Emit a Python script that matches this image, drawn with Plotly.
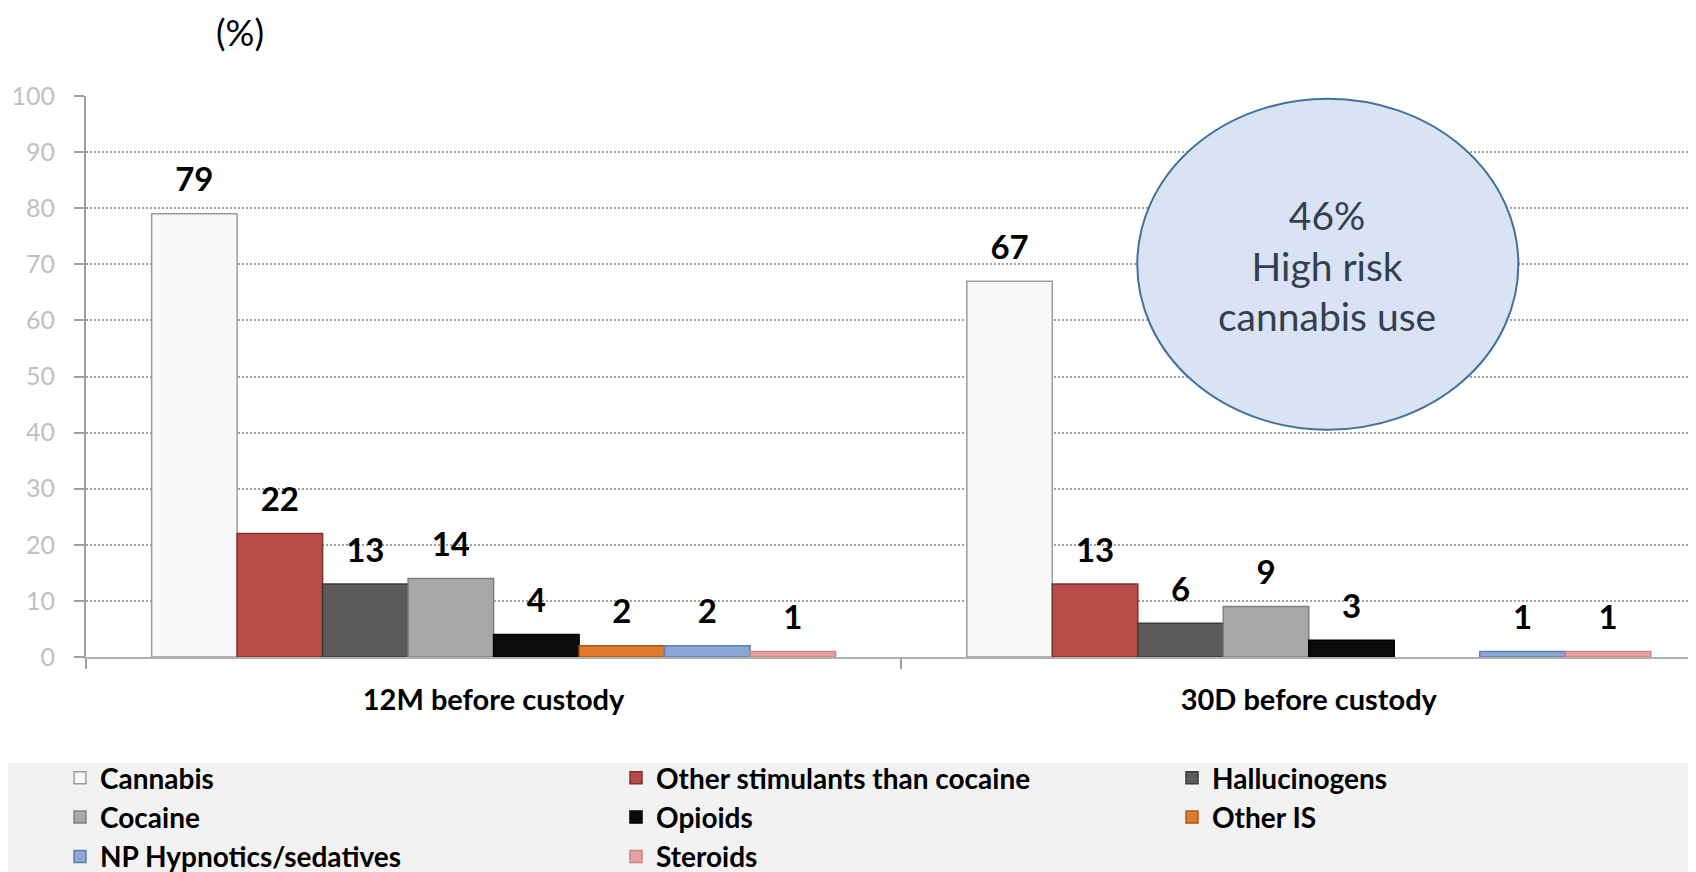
import plotly.graph_objects as go

categories = ["12M before custody", "30D before custody"]
substances = ["Cannabis", "Other stimulants than cocaine", "Hallucinogens", "Cocaine",
              "Opioids", "Other IS", "NP Hypnotics/sedatives", "Steroids"]
values_12m = [79, 22, 13, 14, 4, 2, 2, 1]
values_30d = [67, 13, 6, 9, 3, None, 1, 1]
colors = ["#f8f8f8", "#b94c49", "#5b5b5b", "#a8a8a8", "#0b0b0b", "#df7a2e", "#8ba7d6", "#e4a2a2"]
edge_colors = ["#9c9c9c", "#7e3230", "#3b3b3b", "#808080", "#000000", "#a95818", "#5f7db2", "#cc8585"]
y_ticks = [0, 10, 20, 30, 40, 50, 60, 70, 80, 90, 100]
bubble_lines = ["46%", "High risk", "cannabis use"]

FONT = "Lato"
# The page has an 8px body margin, so the figure is drawn 8px smaller
# and all page-pixel positions are shifted by that offset.
OFF = 8
W, H = 1696 - OFF, 872 - OFF
L, T, R, B = 86 - OFF, 96 - OFF, 1696 - OFF, 657 - OFF   # plot area inside the figure
PW, PH = R - L, B - T


def px(x_page):
    return (x_page - OFF - L) / PW


def py(y_page):
    return (B - (y_page - OFF)) / PH


fig = go.Figure()

for i, name in enumerate(substances):
    vals = [values_12m[i], values_30d[i]]
    fig.add_trace(go.Bar(
        x=categories, y=vals, name=name,
        marker=dict(color=colors[i], line=dict(color=edge_colors[i], width=1.5)),
        offsetgroup=str(i), hoverinfo="skip",
    ))

for i, name in enumerate(substances):
    vals = [values_12m[i], values_30d[i]]
    fig.add_trace(go.Scatter(
        x=categories, y=vals, mode="markers+text",
        text=[("<b>%d</b>" % v) if v is not None else "" for v in vals],
        textposition="top center",
        textfont=dict(family=FONT, size=33, color="#000000"),
        marker=dict(size=21, opacity=0),
        offsetgroup=str(i), showlegend=False, hoverinfo="skip", cliponaxis=False,
    ))

# ellipse callout
fig.add_shape(type="circle", xref="x", yref="y",
              x0=0.7896, x1=1.2571, y0=40.5, y1=99.5,
              fillcolor="#dae3f3", line=dict(color="#41719c", width=2), layer="above")
fig.add_annotation(x=1.0227, y=69.8, xref="x", yref="y", showarrow=False,
                   xanchor="center", yanchor="middle",
                   text="<br>".join(bubble_lines),
                   font=dict(family=FONT, size=39, color="#333f50"))

# legend background band
fig.add_shape(type="rect", xref="paper", yref="paper",
              x0=-0.1, x1=1.05, y0=py(900), y1=py(763),
              fillcolor="#f2f2f2", line=dict(width=0), layer="below")

fig.add_annotation(text="(%)", xref="paper", yref="paper", x=px(240), y=py(32),
                   xanchor="center", yanchor="middle",
                   showarrow=False, font=dict(family=FONT, size=36, color="#000000"))

fig.update_layout(
    width=W, height=H,
    margin=dict(l=L, r=W - R, t=T, b=H - B, pad=0, autoexpand=False),
    paper_bgcolor="white", plot_bgcolor="white",
    barmode="group", bargap=0.161, bargroupgap=0,
    scattermode="group", scattergap=0.161,
    showlegend=True,
    legend=dict(orientation="h", x=px(60), y=py(753), xanchor="left", yanchor="top",
                entrywidth=511, entrywidthmode="pixels",
                font=dict(family=FONT, size=28, color="#000000", weight="bold"),
                bgcolor="rgba(0,0,0,0)", traceorder="normal", tracegroupgap=0),
    xaxis=dict(type="category", range=[-0.5, 1.475], showgrid=False,
               showline=True, linecolor="#b0b0b0", linewidth=2,
               ticks="outside", tickson="boundaries", ticklen=10, tickcolor="#a0a0a0", tickwidth=2,
               tickfont=dict(family=FONT, size=29, color="#000000", weight="bold"),
               ticklabelstandoff=16, fixedrange=True),
    yaxis=dict(range=[0, 100], tickvals=y_ticks, showgrid=True, gridcolor="#a0a0a0", gridwidth=2,
               griddash="2px,2px", zeroline=False,
               showline=True, linecolor="#a0a0a0", linewidth=2,
               ticks="outside", ticklen=10, tickcolor="#a0a0a0", tickwidth=2,
               tickfont=dict(family=FONT, size=25, color="#c0c0c0"),
               ticklabelstandoff=14, fixedrange=True),
)

fig.write_html("out.html")
